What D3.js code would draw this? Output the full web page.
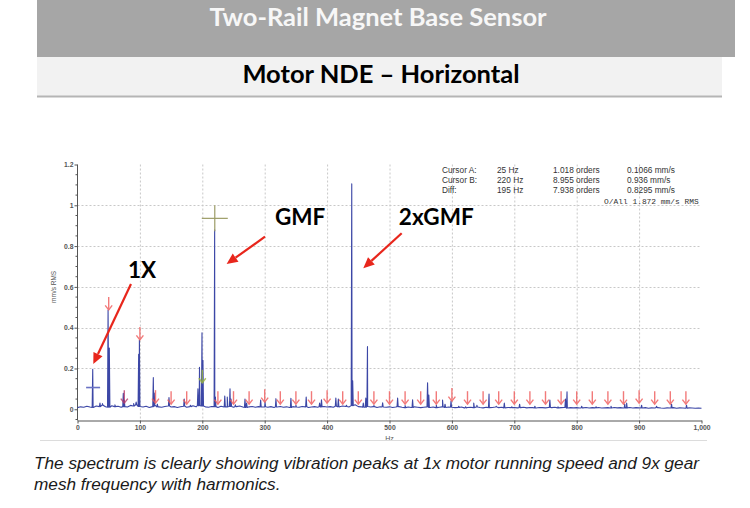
<!DOCTYPE html>
<html><head><meta charset="utf-8">
<script src="https://cdn.jsdelivr.net/npm/d3@7"></script>
<style>body{margin:0;background:#fff} svg{display:block}</style>
</head><body><svg id="c" width="750" height="508"></svg>
<script>
const titleText = "Two-Rail Magnet Base Sensor";
const subtitleText = "Motor NDE \u2013 Horizontal";
const captionLines = [
  "The spectrum is clearly showing vibration peaks at 1x motor running speed and 9x gear",
  "mesh frequency with harmonics."
];
const xTicks = [0,100,200,300,400,500,600,700,800,900,1000];
const xTickLabels = ["0","100","200","300","400","500","600","700","800","900","1,000"];
const yTicks = [0,0.2,0.4,0.6,0.8,1,1.2];
const yTickLabels = ["0","0.2","0.4","0.6","0.8","1","1.2"];
const xAxisTitle = "Hz";
const yAxisTitle = "mm/s RMS";

// noise floor, one value every 5 Hz from 0 to 1000 Hz
const floorStep = 5;
const floorValues = [
  0.008,0.012,0.010,0.015,0.011,0.009,0.016,0.013,0.020,0.012,0.010,0.017,0.013,0.015,0.010,0.013,0.011,0.019,0.016,0.022,
  0.014,0.011,0.015,0.009,0.013,0.018,0.012,0.010,0.014,0.016,0.011,0.013,0.009,0.012,0.015,0.010,0.013,0.017,0.012,0.018,
  0.016,0.012,0.010,0.014,0.013,0.009,0.015,0.011,0.012,0.014,0.010,0.013,0.016,0.011,0.009,0.012,0.014,0.010,0.013,0.011,
  0.012,0.010,0.013,0.009,0.011,0.014,0.010,0.012,0.009,0.013,0.011,0.010,0.014,0.012,0.009,0.011,0.013,0.010,0.012,0.014,
  0.011,0.013,0.010,0.015,0.012,0.016,0.014,0.011,0.018,0.022,0.013,0.012,0.010,0.014,0.011,0.013,0.009,0.012,0.011,0.010,
  0.012,0.009,0.011,0.013,0.010,0.008,0.011,0.009,0.012,0.010,0.008,0.010,0.012,0.009,0.011,0.008,0.010,0.012,0.009,0.011,
  0.010,0.008,0.009,0.011,0.007,0.009,0.010,0.008,0.011,0.009,0.007,0.010,0.008,0.009,0.011,0.008,0.010,0.007,0.009,0.008,
  0.009,0.007,0.008,0.010,0.007,0.009,0.008,0.006,0.009,0.008,0.007,0.009,0.008,0.010,0.007,0.008,0.009,0.006,0.008,0.007,
  0.008,0.006,0.007,0.009,0.006,0.008,0.007,0.009,0.006,0.007,0.008,0.006,0.009,0.007,0.008,0.006,0.007,0.009,0.006,0.008,
  0.007,0.006,0.008,0.005,0.007,0.006,0.008,0.006,0.005,0.007,0.006,0.008,0.005,0.007,0.006,0.005,0.007,0.006,0.005,0.006,0.005
];
// spectral peaks [Hz, mm/s]
const peaks = [
  [24.4,0.196],[36,0.03],[40,0.028],[49,0.487],[51,0.30],[60,0.022],[73.4,0.078],[75,0.045],[90,0.028],[94,0.035],
  [98,0.27],[99.2,0.34],[121.5,0.155],[123,0.08],[128,0.025],[146.6,0.057],[171,0.05],[181,0.02],[193,0.1],[195.5,0.206],
  [199.5,0.375],[201,0.24],[219.8,0.88],[221,0.06],[236,0.065],[240,0.06],[244.4,0.1],[246,0.05],[253,0.022],[268.4,0.05],
  [271,0.03],[293.5,0.045],[300.5,0.035],[318,0.052],[342,0.054],[350,0.02],[366.5,0.06],[388,0.03],[391,0.046],[414,0.055],
  [418,0.05],[431,0.02],[439.5,1.105],[441,0.14],[458,0.03],[462,0.055],[464.7,0.307],[475,0.018],[489,0.032],[513,0.055],
  [525,0.018],[537,0.046],[561,0.13],[563,0.07],[575,0.02],[585,0.045],[589,0.025],[598.6,0.04],[611,0.015],[622,0.012],
  [635,0.03],[640,0.02],[659.5,0.075],[671,0.015],[684,0.03],[696,0.012],[708.5,0.025],[733,0.015],[757,0.045],[770,0.012],
  [782,0.05],[784.5,0.086],[808,0.015],[831,0.012],[855,0.015],[877,0.025],[880,0.03],[904,0.02],[928,0.015],[952,0.025],[976,0.02]
];
// harmonic marker arrows [Hz, tip value]
const markerFreqs = [50,75,100,125,150,175,200,225,250,275,300,325,350,375,400,425,450,475,500,525,550,575,600,625,650,675,700,725,750,775,800,825,850,875,900,925,950,975];
const markerTips  = [0.487,0.03,0.34,0.03,0.025,0.025,0.13,0.025,0.025,0.025,0.035,0.025,0.025,0.025,0.03,0.025,0.025,0.025,0.025,0.025,0.025,0.025,0.04,0.025,0.025,0.025,0.025,0.025,0.025,0.025,0.025,0.025,0.025,0.025,0.03,0.025,0.025,0.025];
const markerKinds = ["r","m","r","r","r","r","g","r","r","r","r","r","r","r","r","r","r","r","r","r","r","r","r","r","r","r","r","r","r","r","r","r","r","r","r","r","r","r"];

const cursorRows = [
  ["Cursor A:","25 Hz","1.018 orders","0.1066 mm/s"],
  ["Cursor B:","220 Hz","8.955 orders","0.936 mm/s"],
  ["Diff:","195 Hz","7.938 orders","0.8295 mm/s"]
];
const overallText = "O/All 1.872 mm/s RMS";
const cursorA = [25, 0.1066];
const cursorB = [220, 0.936];

const annLabels = ["1X","GMF","2xGMF"];
const annTextPos = [[81,0.644],[316.5,0.903],[515,0.903]];
const annTails = [[85.7,0.614],[300.5,0.846],[519.5,0.863]];
const annTips  = [[25.3,0.222],[239,0.712],[458,0.691]];

const svg = d3.select("#c");
const FONT_HEAD = "Lato, 'Open Sans', sans-serif";
const FONT_SMALL = "'Liberation Sans', Arial, sans-serif";

// header bands
svg.append("rect").attr("x",37).attr("y",0).attr("width",698).attr("height",57).attr("fill","#a6a6a6");
svg.append("text").attr("x",378).attr("y",26).attr("text-anchor","middle")
  .attr("font-family",FONT_HEAD).attr("font-weight",700).attr("font-size",25.5).attr("fill","#f7f7f7").text(titleText);
svg.append("rect").attr("x",37).attr("y",57).attr("width",685).attr("height",39).attr("fill","#f2f2f2");
svg.append("line").attr("x1",37).attr("x2",722).attr("y1",96.5).attr("y2",96.5).attr("stroke","#b5b5b5").attr("stroke-width",2);
svg.append("text").attr("x",381).attr("y",83).attr("text-anchor","middle")
  .attr("font-family",FONT_HEAD).attr("font-weight",700).attr("font-size",25.5).attr("fill","#000").text(subtitleText);

// chart
const L = 77.5, R = 701.5, T = 164.5, B = 420.5;
const x = d3.scaleLinear().domain([0,1000]).range([L,R]);
const y = d3.scaleLinear().domain([-0.055,1.2]).range([B,T]);

const g = svg.append("g");
// grid
g.selectAll(".vg").data(xTicks.filter(d=>d>0&&d<1000)).enter().append("line")
  .attr("x1",d=>x(d)+0.5).attr("x2",d=>x(d)+0.5).attr("y1",T).attr("y2",B)
  .attr("stroke","#c8c8c8").attr("stroke-dasharray","2,2").attr("stroke-width",1);
g.selectAll(".hg").data(yTicks.filter(d=>d>0&&d<1.2)).enter().append("line")
  .attr("x1",L).attr("x2",x(1000)-2).attr("y1",d=>Math.round(y(d))+0.5).attr("y2",d=>Math.round(y(d))+0.5)
  .attr("stroke","#c8c8c8").attr("stroke-dasharray","2,2").attr("stroke-width",1);

// axes
const xAxis = d3.axisBottom(x).tickValues(xTicks).tickFormat((d,i)=>xTickLabels[i]).tickSize(3).tickPadding(2).tickSizeOuter(0);
const gx = g.append("g").attr("transform",`translate(0,${B})`).call(xAxis);
gx.select(".domain").attr("stroke","#555");
gx.selectAll(".tick line").attr("stroke","#555");
gx.selectAll("text").attr("font-family",FONT_SMALL).attr("font-weight",700).attr("font-size",6.8).attr("fill","#555");
const yAxis = d3.axisLeft(y).tickValues(yTicks).tickFormat((d,i)=>yTickLabels[i]).tickSize(3).tickPadding(1).tickSizeOuter(0);
const gy = g.append("g").attr("transform",`translate(${L},0)`).call(yAxis);
gy.select(".domain").attr("stroke","#555").attr("d",`M0,${T}V${B}`);
gy.selectAll(".tick line").attr("stroke","#555");
gy.selectAll("text").attr("font-family",FONT_SMALL).attr("font-weight",700).attr("font-size",6.8).attr("fill","#555");
const minorY = d3.range(-0.05,1.2001,0.05).filter(v=>Math.abs(Math.round(v/0.2)*0.2-v)>1e-6);
gy.selectAll(".minor").data(minorY).enter().append("line")
  .attr("x1",-2).attr("x2",0).attr("y1",d=>y(d)).attr("y2",d=>y(d)).attr("stroke","#555");

svg.append("text").attr("x",x(500)).attr("y",441).attr("text-anchor","middle")
  .attr("font-family",FONT_SMALL).attr("font-size",7).attr("fill","#555").text(xAxisTitle);
svg.append("text").attr("transform",`translate(56,${y(0.6)}) rotate(-90)`).attr("text-anchor","middle")
  .attr("font-family",FONT_SMALL).attr("font-size",6.5).attr("fill","#555").text(yAxisTitle);

// spectrum
function floorAt(f){ const i = Math.max(0,Math.min(floorValues.length-1,Math.round(f/floorStep))); return floorValues[i]; }
const pts = floorValues.map((v,i)=>[i*floorStep,v]);
peaks.forEach(([f,a])=>{ const b=floorAt(f); pts.push([f-0.9,b],[f,a],[f+0.9,b]); });
pts.sort((a,b)=>a[0]-b[0]);
const line = d3.line().x(d=>x(d[0])).y(d=>y(d[1]));
g.append("path").datum(pts).attr("d",line).attr("fill","none").attr("stroke","#3c47a6").attr("stroke-width",1.1).attr("stroke-linejoin","round");

// harmonic markers
const kindColor = {r:"#f05a5a", m:"#b83a6a", g:"#9cb83a"};
markerFreqs.forEach((f,i)=>{
  const px = x(f), py = y(markerTips[i]);
  const c = kindColor[markerKinds[i]];
  const mg = g.append("g").attr("stroke",c).attr("fill","none").attr("stroke-width",1.4).attr("opacity",0.8);
  mg.append("line").attr("x1",px).attr("x2",px).attr("y1",py-13).attr("y2",py);
  mg.append("path").attr("d",`M${px-3.5},${py-4.5}L${px},${py}L${px+3.5},${py-4.5}`);
});

// cursors
const ax = x(cursorA[0]), ay = y(cursorA[1]);
g.append("line").attr("x1",ax-7).attr("x2",ax+7).attr("y1",ay).attr("y2",ay).attr("stroke","#6a72c4").attr("stroke-width",1.6);
const bx = x(cursorB[0]), by = y(cursorB[1]);
g.append("line").attr("x1",bx-13).attr("x2",bx+13).attr("y1",by).attr("y2",by).attr("stroke","#9c9c66").attr("stroke-width",1.2);
g.append("line").attr("x1",bx).attr("x2",bx).attr("y1",by-13).attr("y2",by+13).attr("stroke","#9c9c66").attr("stroke-width",1.2);

// cursor readout
const colX = [442,497,553,627];
cursorRows.forEach((row,r)=>{
  row.forEach((t,c)=>{
    svg.append("text").attr("x",colX[c]).attr("y",172.5+r*10.2)
      .attr("font-family",FONT_SMALL).attr("font-size",8.3).attr("fill","#333").text(t);
  });
});
svg.append("text").attr("x",604).attr("y",204).attr("font-family","'Liberation Mono','DejaVu Sans Mono',monospace")
  .attr("font-size",7.9).attr("fill","#333").text(overallText);

// annotations
annLabels.forEach((lab,i)=>{
  svg.append("text").attr("x",x(annTextPos[i][0])).attr("y",y(annTextPos[i][1]))
    .attr("font-family",FONT_HEAD).attr("font-weight",700).attr("font-size",22.5).attr("fill","#000").text(lab);
  const x1=x(annTails[i][0]), y1=y(annTails[i][1]), x2=x(annTips[i][0]), y2=y(annTips[i][1]);
  const ang = Math.atan2(y2-y1,x2-x1), hl=11, hw=5;
  const bxp = x2-hl*Math.cos(ang), byp = y2-hl*Math.sin(ang);
  svg.append("line").attr("x1",x1).attr("y1",y1).attr("x2",bxp).attr("y2",byp).attr("stroke","#e8261c").attr("stroke-width",2.2);
  svg.append("path").attr("d",`M${x2},${y2}L${bxp+hw*Math.sin(ang)},${byp-hw*Math.cos(ang)}L${bxp-hw*Math.sin(ang)},${byp+hw*Math.cos(ang)}Z`).attr("fill","#e8261c");
});

// separator and caption
svg.append("line").attr("x1",40).attr("x2",707).attr("y1",440.5).attr("y2",440.5).attr("stroke","#dcdcdc");
captionLines.forEach((t,i)=>{
  svg.append("text").attr("x",34).attr("y",469+i*21).attr("font-family",FONT_SMALL).attr("font-style","italic")
    .attr("font-size",17.2).attr("fill","#1a1a1a").text(t);
});
</script></body></html>
